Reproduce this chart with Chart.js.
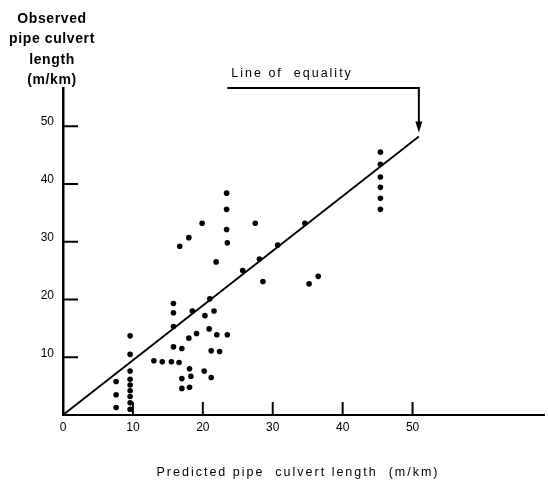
<!DOCTYPE html>
<html>
<head>
<meta charset="utf-8">
<script src="https://cdn.jsdelivr.net/npm/chart.js@4"></script>
<style>
  html, body { margin: 0; padding: 0; background: #fff; }
  canvas { display: block; }
</style>
</head>
<body>
<canvas id="chart" width="548" height="488"></canvas>
<script>
// Predicted vs observed pipe culvert length (m/km), one pair per road section
const predicted = [
    7.6, 7.6, 7.6,
    9.6, 9.6, 9.6, 9.6, 9.6, 9.6, 9.6, 9.6, 9.6,
    13.0, 14.2, 15.5, 16.6,
    15.8, 15.8, 15.8, 15.8,
    17.0, 17.0, 17.0,
    18.0, 18.1, 18.1, 18.3, 18.5,
    19.1, 20.3, 20.2, 20.9, 21.0, 21.2, 21.2, 21.6,
    22.0, 22.4, 23.5,
    25.7, 28.6,
    16.7, 18.0, 19.9, 21.9,
    23.4, 23.4, 23.4, 23.5,
    27.5, 28.1, 30.7, 34.6,
    35.2, 36.5,
    45.4, 45.4, 45.4, 45.4, 45.4, 45.4
];
const observed = [
    5.8, 3.5, 1.3,
    13.7, 10.5, 7.6, 6.2, 5.2, 4.2, 3.2, 2.1, 1.0,
    9.4, 9.2, 9.2, 9.1,
    19.3, 17.7, 15.3, 11.8,
    11.5, 6.3, 4.6,
    13.3, 8.0, 4.8, 6.7, 18.0,
    14.1, 17.2, 7.6, 14.9, 20.1, 11.1, 6.5, 18.0,
    13.9, 11.0, 13.9,
    25.0, 23.1,
    29.2, 30.7, 33.2, 26.5,
    38.4, 35.6, 32.1, 29.8,
    33.2, 27.0, 29.4, 33.2,
    22.7, 24.0,
    45.5, 43.4, 41.2, 39.4, 37.5, 35.6
];

const xTicks = [0, 10, 20, 30, 40, 50];
const yTicks = [10, 20, 30, 40, 50];
const equalityStart = [0, 0];
const equalityEnd = [50.9, 48.2];

const FONT = '"Liberation Sans", Arial, sans-serif';

function spacedText(ctx, text, x, y, spacing) {
    if ('letterSpacing' in ctx) ctx.letterSpacing = spacing + 'px';
    ctx.fillText(text, x, y);
    if ('letterSpacing' in ctx) ctx.letterSpacing = '0px';
}

// Inward tick marks, axis titles and the "Line of equality" pointer
const decorations = {
    id: 'decorations',
    afterDraw(chart) {
        const { ctx, scales: { x, y }, chartArea } = chart;
        ctx.save();
        ctx.strokeStyle = '#000';
        ctx.fillStyle = '#000';

        // ticks pointing into the plot
        ctx.lineWidth = 2;
        ctx.beginPath();
        xTicks.slice(1).forEach(v => {
            const px = x.getPixelForValue(v);
            ctx.moveTo(px, chartArea.bottom);
            ctx.lineTo(px, chartArea.bottom - 13);
        });
        yTicks.forEach(v => {
            const py = y.getPixelForValue(v);
            ctx.moveTo(chartArea.left, py);
            ctx.lineTo(chartArea.left + 15, py);
        });
        ctx.stroke();

        // y axis title, stacked above the axis
        ctx.font = 'bold 14px ' + FONT;
        ctx.textAlign = 'center';
        ctx.textBaseline = 'middle';
        ['Observed', 'pipe culvert', 'length', '(m/km)'].forEach((line, i) => {
            spacedText(ctx, line, 52, 19 + i * 20.5, 0.6);
        });

        // x axis title
        ctx.font = '12.5px ' + FONT;
        spacedText(ctx, 'Predicted pipe  culvert length  (m/km)', 298, 473, 2);

        // pointer to the end of the equality line
        const tipX = x.getPixelForValue(equalityEnd[0]);
        const tipY = y.getPixelForValue(equalityEnd[1]) - 4;
        const barY = chartArea.top;
        const barLeft = x.getPixelForValue(23.5);
        ctx.lineWidth = 2;
        ctx.beginPath();
        ctx.moveTo(barLeft, barY);
        ctx.lineTo(tipX, barY);
        ctx.lineTo(tipX, tipY - 10);
        ctx.stroke();
        ctx.beginPath();
        ctx.moveTo(tipX - 3.5, tipY - 11);
        ctx.lineTo(tipX + 3.5, tipY - 11);
        ctx.lineTo(tipX, tipY);
        ctx.closePath();
        ctx.fill();

        ctx.textAlign = 'left';
        spacedText(ctx, 'Line of  equality', barLeft + 4, barY - 14, 2);
        ctx.restore();
    }
};

new Chart(document.getElementById('chart'), {
    type: 'scatter',
    data: {
        datasets: [
            {
                label: 'Road sections',
                data: predicted.map((p, i) => ({ x: p, y: observed[i] })),
                backgroundColor: '#000',
                borderWidth: 0,
                pointRadius: 2.8
            },
            {
                type: 'line',
                label: 'Line of equality',
                data: [
                    { x: equalityStart[0], y: equalityStart[1] },
                    { x: equalityEnd[0], y: equalityEnd[1] }
                ],
                borderColor: '#000',
                borderWidth: 1.8,
                pointRadius: 0,
                fill: false
            }
        ]
    },
    options: {
        responsive: false,
        devicePixelRatio: 1,
        animation: false,
        layout: { padding: { top: 88, right: 0, left: 0, bottom: 0 } },
        plugins: {
            legend: { display: false },
            tooltip: { enabled: false }
        },
        scales: {
            x: {
                type: 'linear',
                min: 0,
                max: 68.8,
                afterFit: s => { s.height = 73; },
                afterBuildTicks: s => { s.ticks = xTicks.map(v => ({ value: v })); },
                grid: { display: false, drawTicks: false },
                border: { display: true, color: '#000', width: 2 },
                ticks: {
                    color: '#000',
                    font: { family: FONT, size: 12 },
                    padding: 5,
                    maxRotation: 0
                }
            },
            y: {
                type: 'linear',
                min: 0,
                max: 56.6,
                afterFit: s => { s.width = 63; },
                afterBuildTicks: s => { s.ticks = yTicks.map(v => ({ value: v })); },
                grid: { display: false, drawTicks: false },
                border: { display: true, color: '#000', width: 2.5 },
                ticks: {
                    color: '#000',
                    font: { family: FONT, size: 12 },
                    padding: 9,
                    labelOffset: -4
                }
            }
        }
    },
    plugins: [decorations]
});
</script>
</body>
</html>
